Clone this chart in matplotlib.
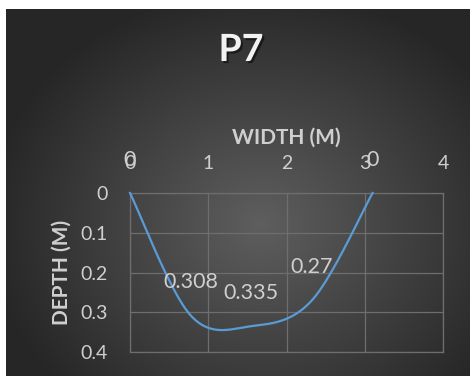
import numpy as np
import matplotlib
matplotlib.use("Agg")
import matplotlib.pyplot as plt
import matplotlib.patheffects as pe

plt.rcParams['font.family'] = ['Lato', 'DejaVu Sans']

# channel cross-section P7
width = [0, 0.775, 1.55, 2.325, 3.1]
depth = [0, 0.308, 0.335, 0.27, 0]
x_ticks = [0, 1, 2, 3, 4]
y_ticks = [0, 0.1, 0.2, 0.3, 0.4]

text_grey = '#cfcfcf'
grid_grey = '#6e6e6e'
line_blue = '#5b9bd5'


def smooth(xs, ys, n=40):
    # cubic bezier through the points, catmull-rom style control points
    px = np.concatenate([[xs[0]], xs, [xs[-1]]])
    py = np.concatenate([[ys[0]], ys, [ys[-1]]])
    out_x, out_y = [], []
    t = np.linspace(0, 1, n)
    for i in range(1, len(px) - 2):
        p0 = np.array([px[i], py[i]])
        p3 = np.array([px[i + 1], py[i + 1]])
        c1 = p0 + (np.array([px[i + 1], py[i + 1]]) - np.array([px[i - 1], py[i - 1]])) / 6
        c2 = p3 - (np.array([px[i + 2], py[i + 2]]) - np.array([px[i], py[i]])) / 6
        b = ((1 - t) ** 3)[:, None] * p0 + (3 * (1 - t) ** 2 * t)[:, None] * c1 \
            + (3 * (1 - t) * t ** 2)[:, None] * c2 + (t ** 3)[:, None] * p3
        out_x.extend(b[:, 0])
        out_y.extend(b[:, 1])
    return out_x, out_y


fig = plt.figure(figsize=(4.7, 3.76), dpi=100)
fig.patch.set_facecolor('white')

# dark radial background
bg = fig.add_axes([6 / 470, 0, 1 - 6 / 470, 1 - 9 / 376])
bg.set_axis_off()
gx, gy = np.meshgrid(np.linspace(0, 464, 300), np.linspace(0, 367, 240))
r = np.sqrt(((gx - 255) / 300) ** 2 + ((gy - 215) / 260) ** 2)
shade = np.clip(0.37 - 0.24 * r, 0.15, 0.37)
bg.imshow(np.dstack([shade] * 3), extent=[0, 1, 0, 1], aspect='auto', origin='upper')
bg.set_xlim(0, 1)
bg.set_ylim(0, 1)

ax = fig.add_axes([130 / 470, 24 / 376, 313 / 470, 159 / 376])
ax.set_facecolor('none')
sx, sy = smooth(np.array(width), np.array(depth))
ax.plot(sx, sy, color=line_blue, lw=1.6, clip_on=False, zorder=3)

for xv, yv in zip(width, depth):
    ax.annotate(f'{yv:g}', (xv, yv), xytext=(0, 24), textcoords='offset points',
                ha='center', va='center', fontsize=15.5, color=text_grey, zorder=4,
                annotation_clip=False)

ax.set_xlim(0, 4)
ax.set_ylim(0.4, 0)
ax.set_xticks(x_ticks)
ax.set_yticks(y_ticks)
ax.set_yticklabels([f'{v:g}' for v in y_ticks])
ax.xaxis.tick_top()
ax.xaxis.set_label_position('top')
ax.tick_params(length=0, labelsize=14, labelcolor=text_grey)
ax.tick_params(axis='x', pad=15)
ax.tick_params(axis='y', pad=16)
ax.grid(True, color=grid_grey, lw=0.9)
for s in ax.spines.values():
    s.set_color(grid_grey)
    s.set_linewidth(0.9)

ax.set_xlabel('WIDTH (M)', fontsize=15, fontweight='bold', color=text_grey, labelpad=8)
ax.set_ylabel('DEPTH (M)', fontsize=15, fontweight='bold', color=text_grey, labelpad=6)

fig.text(241 / 470, 1 - 50 / 376, 'P7', ha='center', va='center', fontsize=27,
         fontweight='bold', color='#f2f2f2',
         path_effects=[pe.withSimplePatchShadow(offset=(1.5, -1.5), shadow_rgbFace='black', alpha=0.5)])

fig.savefig('out.png', dpi=100)
